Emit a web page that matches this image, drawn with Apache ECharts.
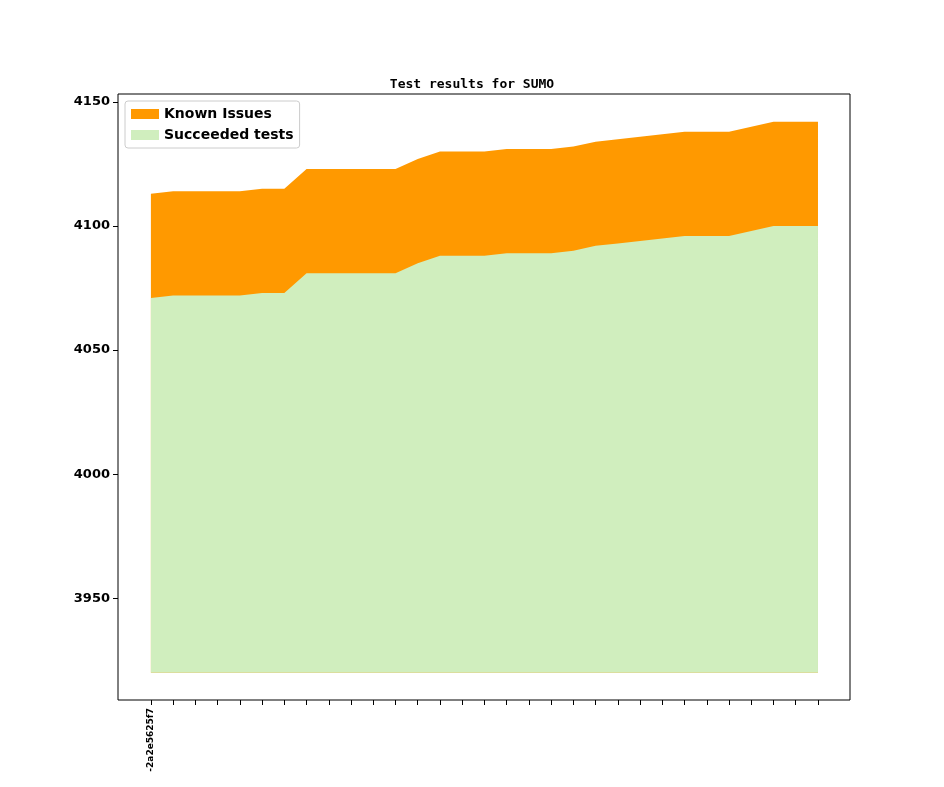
<!DOCTYPE html>
<html><head><meta charset="utf-8">
<script src="https://cdn.jsdelivr.net/npm/echarts@6/dist/echarts.min.js"></script>
<style>html,body{margin:0;padding:0;background:#fff}#c{width:944px;height:787px}</style>
</head><body><div id="c"></div>
<script>
const xLabels = ['-2a2e5625f7'];
const succeeded = [4071,4072,4072,4072,4072,4073,4073,4081,4081,4081,4081,4081,4085,4088,4088,4088,4089,4089,4089,4090,4092,4093,4094,4095,4096,4096,4096,4098,4100,4100,4100];
const knownIssues = [42,42,42,42,42,42,42,42,42,42,42,42,42,42,42,42,42,42,42,42,42,42,42,42,42,42,42,42,42,42,42];
const baseline = 3920;
const yTicks = [3950,4000,4050,4100,4150];

const idx = succeeded.map((_, i) => i);
const chart = echarts.init(document.getElementById('c'));
const font = {fontFamily:'DejaVu Sans', fontWeight:'bold', color:'#000'};
chart.setOption({
  animation:false,
  title:{text:'Test results for SUMO', left:'center', top:73, textStyle:{fontFamily:'DejaVu Sans Mono', fontWeight:'bold', fontSize:13, color:'#000'}},
  legend:{orient:'vertical', left:125, top:101, padding:[6,6,6,6], borderColor:'#ccc', borderWidth:1, borderRadius:3, itemGap:7, itemWidth:28, itemHeight:10,
    textStyle:Object.assign({fontSize:14}, font),
    data:[{name:'Known Issues', icon:'rect'},{name:'Succeeded tests', icon:'rect'}]},
  grid:{left:118, right:94, top:94, bottom:87, show:true, borderColor:'#000', borderWidth:1},
  xAxis:{type:'value', min:-1.48, max:31.44,
    axisLine:{show:false, onZero:false}, splitLine:{show:false},
    axisTick:{show:true, customValues:idx, length:5, lineStyle:{color:'#000'}},
    axisLabel:{show:true, customValues:[0], rotate:90, fontSize:9, fontFamily:'DejaVu Sans', fontWeight:'bold', color:'#000',
      formatter:v => xLabels[v] || ''}},
  yAxis:{type:'value', min:3909, max:4153.2,
    axisLine:{show:false, onZero:false}, splitLine:{show:false},
    axisTick:{show:true, customValues:yTicks, length:5, lineStyle:{color:'#000'}},
    axisLabel:Object.assign({customValues:yTicks, fontSize:13, formatter:v=>String(v)}, font)},
  series:[
    {name:'Known Issues', type:'line', symbol:'none', showSymbol:false, lineStyle:{width:0}, color:'#ff9900', areaStyle:{color:'#ff9900', opacity:1, origin:baseline}, data:idx.map(i=>[i, succeeded[i]+knownIssues[i]])},
    {name:'Succeeded tests', type:'line', symbol:'none', showSymbol:false, lineStyle:{width:0}, color:'#d0eebe', areaStyle:{color:'#d0eebe', opacity:1, origin:baseline}, data:idx.map(i=>[i, succeeded[i]])}
  ]
});
</script></body></html>
